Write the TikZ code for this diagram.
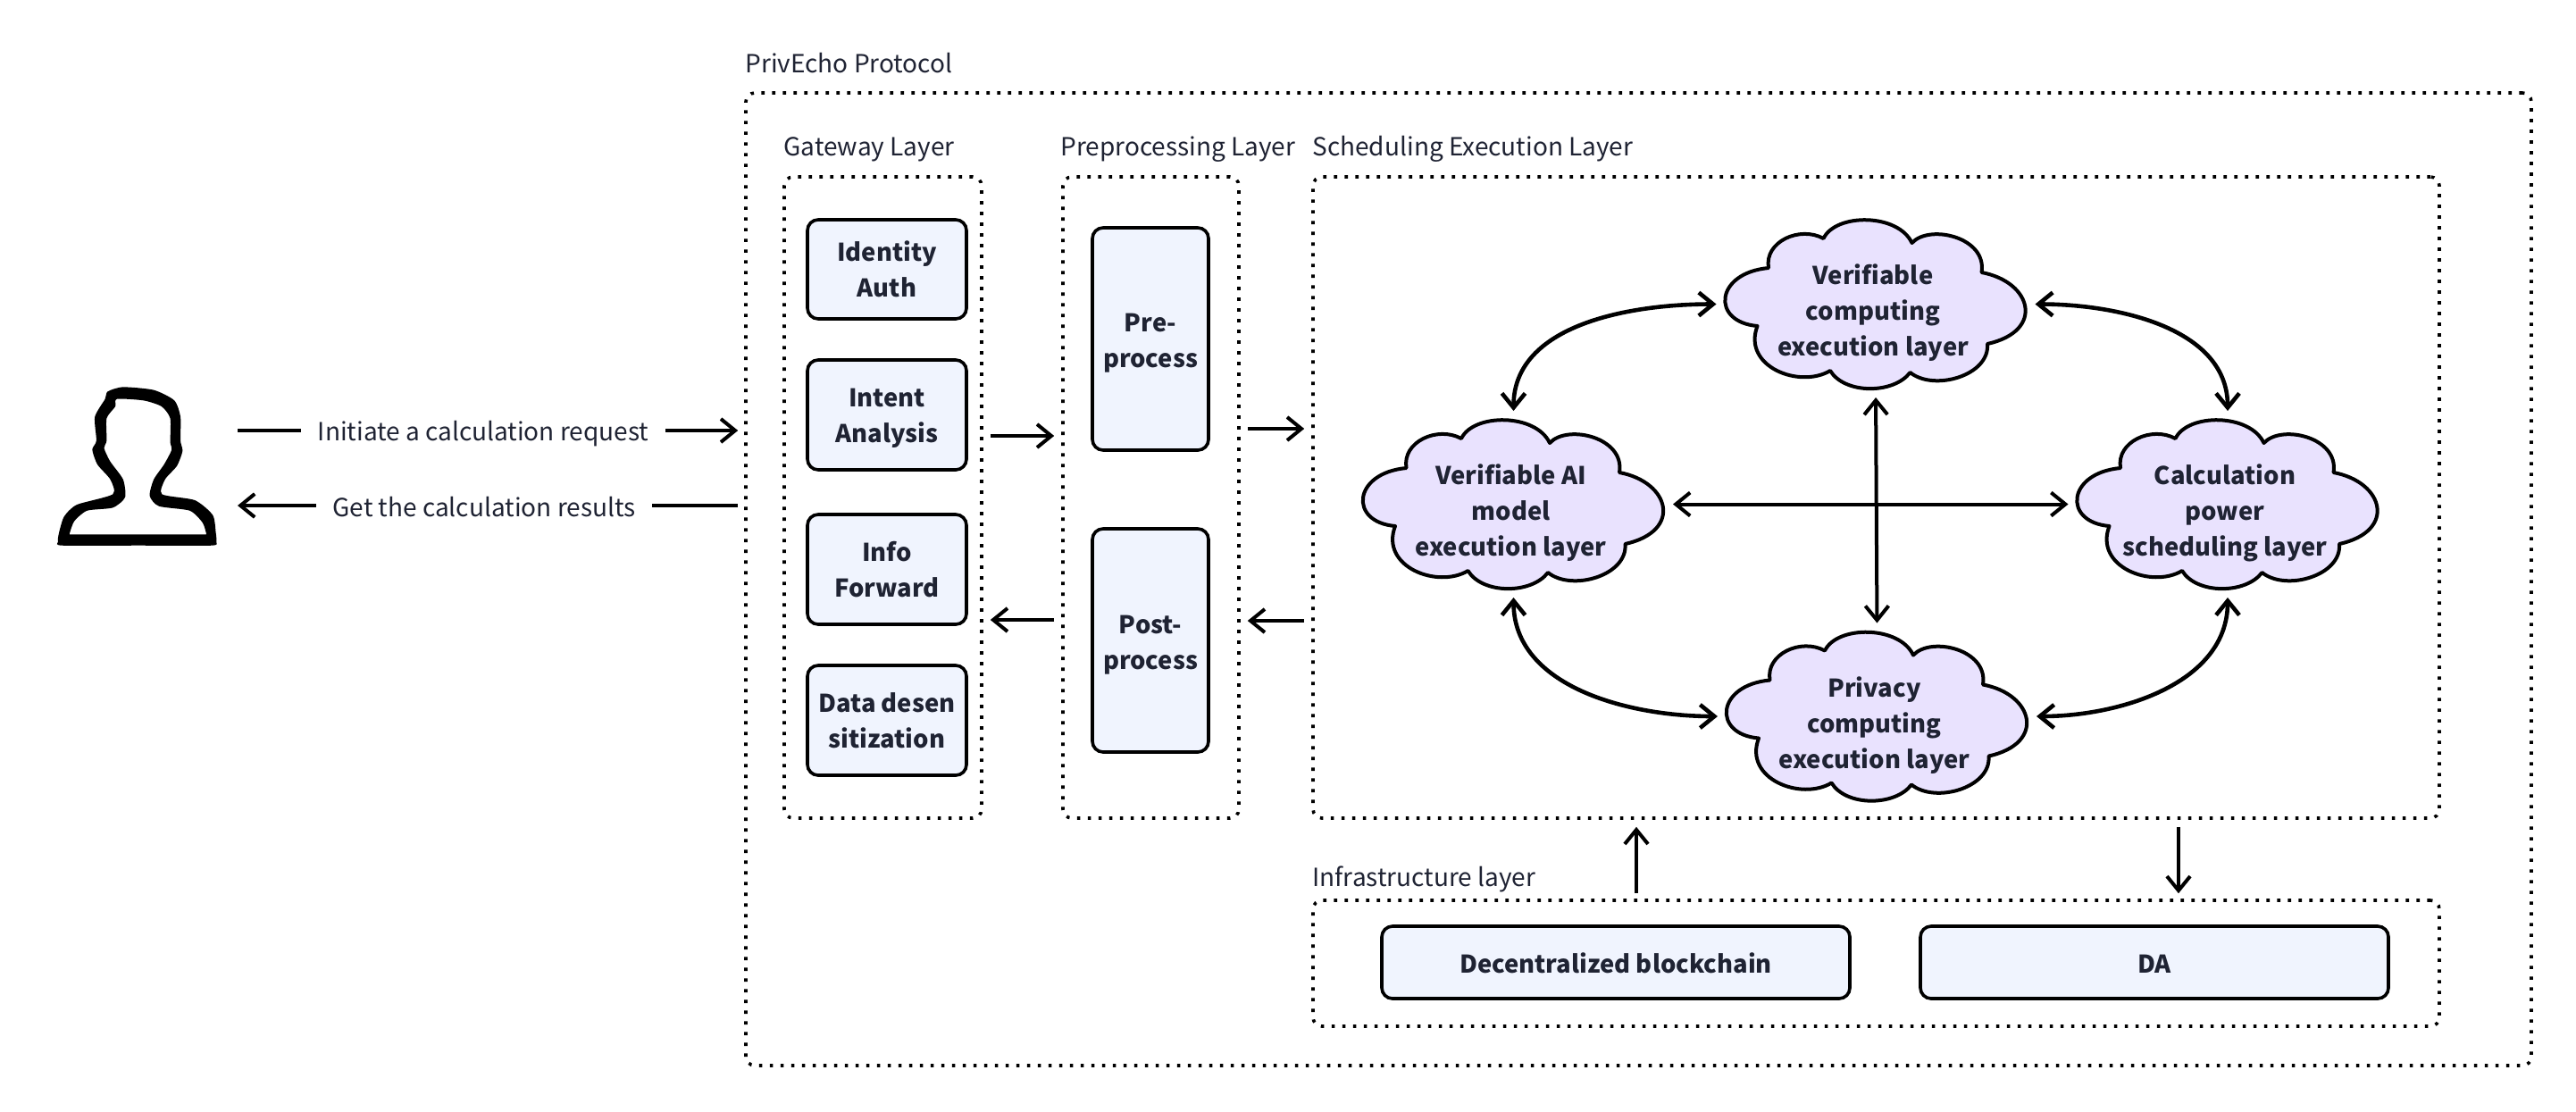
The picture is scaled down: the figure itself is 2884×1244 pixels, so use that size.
\documentclass[tikz,border=0pt]{standalone}
\usepackage{fontspec}
\setmainfont{Noto Sans CJK SC}
\usetikzlibrary{shapes,shapes.geometric,arrows.meta,calc,positioning}
\definecolor{inkc}{HTML}{1F2333}
\definecolor{boxc}{HTML}{F0F4FE}
\definecolor{cloudc}{HTML}{E9E2FE}
\tikzset{dotbox/.style={draw,line width=1.8pt,rounded corners=5pt,dash pattern=on 1.8pt off 4.2pt}}
\tikzstyle{st}=[draw, fill=boxc, text=inkc, line width=1.8pt, rounded corners=6pt, align=center, font=\bfseries\fontsize{13.7pt}{20pt}\selectfont, inner sep=0pt, text height=35pt, text depth=4pt]
\tikzstyle{wide}=[minimum width=262pt, minimum height=40.5pt, text height=14pt, text depth=2pt]
\tikzstyle{puffbody}=[shape=ellipse, inner sep=0pt, minimum width=168.5pt, minimum height=94.5pt]
\tikzstyle{pufftext}=[text=inkc, align=center, inner sep=0pt, font=\bfseries\fontsize{13.7pt}{20pt}\selectfont]
\tikzstyle{lbl}=[text=inkc, anchor=base west, inner sep=0pt, font=\fontsize{14pt}{20pt}\selectfont]
\tikzstyle{flow}=[text=inkc, inner ysep=0pt, inner xsep=8.5pt, font=\fontsize{14pt}{20pt}\selectfont]
\tikzstyle{gap}=[shorten >=4pt, shorten <=4pt]
\tikzset{pics/puffy/.style={code={
\draw[fill=cloudc, line width=2pt, line join=round] (-58.5,-73.5) .. controls (-45,-102) and (25,-102) .. (40.5,-68.5)
 .. controls (60,-90) and (125,-75) .. (118.5,-35.5)
 .. controls (175,-25) and (190,30) .. (125,44.5)
 .. controls (128,80) and (65,98) .. (38.5,76.5)
 .. controls (20,101) and (-35,101) .. (-51,74.5)
 .. controls (-85,95) and (-150,70) .. (-132.5,24.5)
 .. controls (-185,20) and (-180,-35) .. (-120,-40.5)
 .. controls (-125,-70) and (-85,-88) .. cycle;
\node[puffbody] (-body) at (0,0){};
\node[pufftext] (-text) at (-3,10){#1};
}}}

\begin{document}
\begin{tikzpicture}[x=0.5pt, y=-0.5pt, >={Straight Barb[length=8pt,width=13pt]}, line width=2pt]
\useasboundingbox (0,0) rectangle (2884,1244);
\node[dotbox, minimum width=999.5pt, minimum height=544.5pt] (protocol) at (1834.5,648.5){};
\node[dotbox, minimum width=110.5pt, minimum height=359pt] (gateway) at (988.5,557){};
\node[dotbox, minimum width=98.5pt, minimum height=359pt] (preproc) at (1288.5,557){};
\node[dotbox, minimum width=630.5pt, minimum height=359pt] (sched) at (2100.5,557){};
\node[dotbox, minimum width=630.5pt, minimum height=70.5pt] (infra) at (2100.5,1078.5){};
\node[lbl] (protolabel) at (832.5,81){PrivEcho Protocol};
\node[lbl] (gatelabel) at (875.5,174){Gateway Layer};
\node[lbl] (prelabel) at (1185.5,174){Preprocessing Layer};
\node[lbl] (schedlabel) at (1467.5,174){Scheduling Execution Layer};
\node[lbl] (infralabel) at (1467.5,992){Infrastructure layer};
\node[st, minimum width=89pt, minimum height=55.5pt] (identity) at (993,301.5){Identity\\Auth};
\node[st, minimum width=89pt, minimum height=61.5pt, below=21.2pt of identity] (intent){Intent\\Analysis};
\node[st, minimum width=89pt, minimum height=61.5pt, below=23.2pt of intent] (info){Info\\Forward};
\node[st, minimum width=89pt, minimum height=61.5pt, below=21.2pt of info] (data){Data desen\\sitization};
\node[st, minimum width=65pt, minimum height=124.5pt, text height=36pt] (pre) at (1288,379.5){Pre-\\process};
\node[st, minimum width=65pt, minimum height=125pt, below=42.2pt of pre, text height=36pt] (post){Post-\\process};
\node[st, wide] (chain) at (1809,1077.5){Decentralized blockchain};
\node[st, wide, right=37.7pt of chain] (da){DA};
\pic (vercomp) at (2100,340.5) {puffy={Verifiable\\computing\\execution layer}};
\pic (aimodel) at (1694.5,564.5) {puffy={Verifiable AI\\model\\execution layer}};
\pic (power) at (2494,564.5) {puffy={Calculation\\power\\scheduling layer}};
\pic (privacy) at (2101.5,802) {puffy={Privacy\\computing\\execution layer}};
\node[minimum width=88.5pt, minimum height=89pt, inner sep=0pt] (user) at (153.5,522){};
\begin{scope}[shift={(0,380)}, x=0.287pt, y=-0.1667pt]
\fill[even odd rule] plot[smooth cycle, tension=0.4] coordinates {(240,160) (300,170) (340,205) (352,260) (352,340) (356,375) (345,425) (322,470) (316,520) (380,540) (415,590) (421,650) (422,680) (412,692) (270,692) (122,692) (113,680) (115,650) (125,595) (150,555) (220,520) (215,470) (190,420) (180,370) (188,340) (185,260) (205,200) (210,175)}
plot[smooth cycle, tension=0.4] coordinates {(228,200) (280,205) (315,225) (332,265) (332,345) (335,370) (320,420) (300,470) (292,525) (310,560) (370,575) (395,615) (402,650) (402,655) (396,655) (142,655) (136,655) (136,650) (145,610) (170,575) (220,565) (244,530) (240,470) (215,410) (203,365) (208,340) (208,265) (225,225)};
\end{scope}
\node[flow, text height=15pt] (reqlabel) at (541,482){Initiate a calculation request};
\node[flow, text height=12pt, text depth=0pt] (getlabel) at (542,566){Get the calculation results};
\draw[shorten <=11pt] (user.east |- reqlabel) -- (reqlabel);
\draw[->, shorten >=3.5pt] (reqlabel) -- (protocol.west |- reqlabel);
\draw[->, shorten >=11pt] (getlabel) -- (user.east |- getlabel);
\draw[shorten >=3.5pt] (getlabel) -- (protocol.west |- getlabel);
\path[->, gap] ([yshift=34.5pt]gateway.east) edge ([yshift=34.5pt]preproc.west)
	 ([yshift=-68.5pt]preproc.west) edge ([yshift=-68.5pt]gateway.east)
	 ([yshift=38.5pt]preproc.east) edge ([yshift=38.5pt]sched.west)
	 ([yshift=-69pt]sched.west) edge ([yshift=-69pt]preproc.east);
\draw[->, shorten <=3pt, shorten >=4pt] (infra.north -| 1832,0) -- (sched.south -| 1832,0);
\draw[->, shorten <=4pt, shorten >=3pt] (sched.south -| 2439,0) -- (infra.north -| 2439,0);
\path[<->, gap] (vercomp-body.south) edge (privacy-body.north)
	 (aimodel-body.east) edge (power-body.west);
\path[<->, gap, line width=2.3pt] (vercomp-body.west) edge[out=180, in=90] (aimodel-body.north)
	 (vercomp-body.east) edge[out=0, in=90] (power-body.north)
	 (privacy-body.west) edge[out=180, in=-90] (aimodel-body.south)
	 (privacy-body.east) edge[out=0, in=-90] (power-body.south);
\end{tikzpicture}
\end{document}
